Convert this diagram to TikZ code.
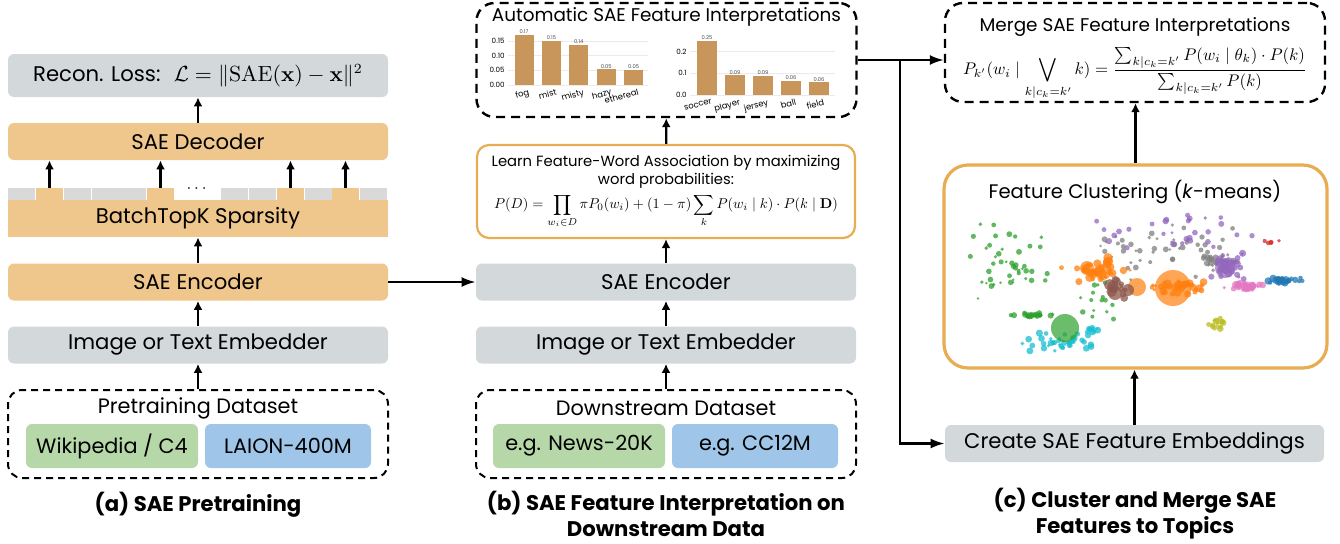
\documentclass[tikz,border=0pt]{standalone}
\usepackage{amsmath}
\usepackage{amssymb}
\usepackage{graphicx}
\usepackage[no-math]{fontspec}
\setmainfont{Poppins}
\usetikzlibrary{arrows.meta,positioning}

\definecolor{boxgray}{HTML}{D3D8DB}
\definecolor{boxorange}{HTML}{EFC68B}
\definecolor{boxgreen}{HTML}{B6D7A8}
\definecolor{boxblue}{HTML}{9FC5E8}
\definecolor{cellgray}{HTML}{D9D9D9}
\definecolor{frameorange}{HTML}{E8AC52}
\definecolor{barbrown}{HTML}{C8955A}
\definecolor{gridgray}{HTML}{EBEBEB}
\definecolor{tabblue}{HTML}{1F77B4}
\definecolor{taborange}{HTML}{FF7F0E}
\definecolor{tabgreen}{HTML}{2CA02C}
\definecolor{tabred}{HTML}{D62728}
\definecolor{tabpurple}{HTML}{9467BD}
\definecolor{tabbrown}{HTML}{8C564B}
\definecolor{tabpink}{HTML}{E377C2}
\definecolor{tabgray}{HTML}{7F7F7F}
\definecolor{tabolive}{HTML}{BCBD22}
\definecolor{tabcyan}{HTML}{17BECF}

% color, centre x, centre y, spread x, spread y, count, min radius, max radius
\newcommand{\featcloud}[8]{%
	\foreach \i in {1,...,#6}{%
		\pgfmathsetmacro{\px}{#2+#4*(rand+rand)/2}%
		\pgfmathsetmacro{\py}{#3+#5*(rand+rand)/2}%
		\pgfmathsetmacro{\pr}{#7+(#8-#7)*rnd}%
		\fill[#1, opacity=.75] (\px,\py) circle (\pr pt);
	}}

\begin{document}
\begin{tikzpicture}[x=0.5pt,y=-0.5pt]
	\tikzstyle{box}=[rounded corners=3pt, minimum width=190pt, minimum height=18.5pt, inner sep=0pt, font=\fontsize{10.6}{12}\selectfont]
	\tikzstyle{graybox}=[box, fill=boxgray]
	\tikzstyle{orangebox}=[box, fill=boxorange]
	\tikzstyle{databox}=[draw, line width=1pt, dash pattern=on 3.5pt off 2.5pt, rounded corners=7pt, minimum width=190pt, minimum height=44pt, inner sep=0pt]
	\tikzstyle{topbox}=[draw, line width=1.2pt, dash pattern=on 4.5pt off 3pt, rounded corners=9pt, minimum width=190pt, inner sep=0pt]
	\tikzstyle{framebox}=[draw=frameorange, rounded corners=6pt, inner sep=0pt]
	\tikzstyle{srcbox}=[rounded corners=3pt, minimum height=22pt, inner sep=0pt, font=\fontsize{10.4}{12}\selectfont]
	\tikzstyle{title}=[font=\fontsize{10.4}{12}\selectfont]
	\tikzstyle{toptitle}=[font=\fontsize{9.2}{10}\selectfont, inner sep=0pt]
	\tikzstyle{cell}=[minimum width=13.3pt, minimum height=6pt, inner sep=0pt]
	\tikzstyle{arr}=[-{Latex[length=4.5pt,width=4.5pt]}, line width=1.1pt]
	\tikzstyle{longarr}=[-{Latex[length=7pt,width=5pt]}, line width=1.1pt]
	\tikzstyle{caption}=[font=\bfseries\fontsize{10.6}{13}\selectfont, align=center, inner sep=0pt]
	\tikzstyle{ticklbl}=[font=\fontsize{3.6}{4}\selectfont, inner sep=0.5pt]
	\tikzstyle{barlbl}=[font=\fontsize{4.2}{5}\selectfont, inner sep=0.5pt, rotate=15, anchor=north east]
	\tikzstyle{vallbl}=[font=\fontsize{2.6}{3}\selectfont, text=black!70, inner sep=0.3pt, anchor=south]

	\useasboundingbox (0,0) rectangle (1340,543);

	% (a) SAE pretraining
	\node[graybox, minimum height=21.5pt] (loss) at (198,75.5) {Recon. Loss: \ $\mathcal{L}=\|\mathrm{SAE}(\mathbf{x})-\mathbf{x}\|^2$};
	\node[orangebox] (dec) at (198,141.5) {SAE Decoder};
	\node[orangebox, rounded corners=0pt] (sparse) at (198,218.5) {BatchTopK Sparsity};
	\foreach \x in {8,64,92,119,221,249,305,360}
		\node[cell, fill=cellgray] at (\x+13.5,194) {};
	\foreach \x [count=\n] in {36,147,277,332}
		\node[cell, fill=boxorange] (c\n) at (\x+13.5,194) {};
	\node[font=\fontsize{8}{8}\selectfont] (dots) at (198,189) {$\cdots$};
	\node[orangebox] (enca) at (198,282) {SAE Encoder};
	\node[graybox] (emba) at (198,345) {Image or Text Embedder};
	\node[databox] (dataa) at (198,434) {};
	\node[title] (dataatitle) at (198,408) {Pretraining Dataset};
	\node[srcbox, fill=boxgreen, minimum width=86pt] (wiki) at (112,446) {Wikipedia / C4};
	\node[srcbox, fill=boxblue, minimum width=83pt] (laion) at (288,446) {LAION-400M};
	\node[caption] (capa) at (198,505) {(a) SAE Pretraining};

	\draw[arr] (dec) -- (loss);
	\foreach \n in {1,...,4}
		\draw[arr] (c\n.north) -- (c\n.north |- dec.south);
	\draw[arr] (enca) -- (sparse);
	\draw[arr] (emba) -- (enca);
	\draw[arr] (dataa) -- (emba);

	% (b) feature interpretation
	\node[topbox, minimum height=57pt] (interp) at (666.5,60) {};
	\node[toptitle] (interptitle) at (666.5,17) {Automatic SAE Feature Interpretations};
	\node[framebox, line width=1.1pt, minimum width=189pt, minimum height=46.5pt] (learn) at (666,191.5) {};
	\node[font=\fontsize{7.4}{9}\selectfont, align=center, inner sep=0pt] (learntext) at (666,172) {Learn Feature-Word Association by maximizing\\word probabilities:};
	\node[inner sep=0pt] (learnmath) at (666,211) {\resizebox{172pt}{!}{$\displaystyle P(D)=\prod_{w_i\in D}\pi P_0(w_i)+(1-\pi)\sum_k P(w_i\mid k)\cdot P(k\mid\mathbf{D})$}};
	\node[graybox] (encb) at (666,282) {SAE Encoder};
	\node[graybox] (embb) at (666,345) {Image or Text Embedder};
	\node[databox] (datab) at (666,434) {};
	\node[title] (databtitle) at (666,408) {Downstream Dataset};
	\node[srcbox, fill=boxgreen, minimum width=86pt] (news) at (579,446) {e.g. News-20K};
	\node[srcbox, fill=boxblue, minimum width=83pt] (cc) at (755,446) {e.g. CC12M};
	\node[caption] (capb) at (666,514) {(b) SAE Feature Interpretation on\\Downstream Data};

	% bar charts
	\foreach \t/\y in {0.00/85,0.05/70.3,0.10/55.6,0.15/40.9}{
		\draw[gridgray, line width=0.3pt] (508,\y) -- (648,\y);
		\node[ticklbl, anchor=east] at (506,\y) {\t};
	}
	\foreach \v/\s/\w [count=\n] in {0.17/0.17/fog,0.15/0.15/mist,0.136/0.14/misty,0.053/0.05/hazy,0.052/0.05/ethereal}{
		\pgfmathsetmacro{\xc}{524+27.4*(\n-1)}
		\fill[barbrown] (\xc-9.5,85) rectangle (\xc+9.5,85-294*\v);
		\node[vallbl] at (\xc,85-294*\v) {\s};
		\node[barlbl] at (\xc+5,87) {\w};
	}
	\foreach \t/\y in {0.0/95,0.1/73.3,0.2/51.6}{
		\draw[gridgray, line width=0.3pt] (690,\y) -- (835,\y);
		\node[ticklbl, anchor=east] at (688,\y) {\t};
	}
	\foreach \v/\s/\w [count=\n] in {0.25/0.25/soccer,0.09/0.09/player,0.088/0.09/jersey,0.065/0.06/ball,0.058/0.06/field}{
		\pgfmathsetmacro{\xc}{707+28*(\n-1)}
		\fill[barbrown] (\xc-10,95) rectangle (\xc+10,95-217*\v);
		\node[vallbl] at (\xc,95-217*\v) {\s};
		\node[barlbl] at (\xc+5,97) {\w};
	}

	\draw[longarr] (enca) -- (encb);
	\draw[arr] (datab) -- (embb);
	\draw[arr] (embb) -- (encb);
	\draw[arr] (encb) -- (learn);
	\draw[arr] (learn) -- (interp);

	% (c) cluster and merge
	\node[topbox, minimum height=49.5pt] (merge) at (1135,52.5) {};
	\node[toptitle] (mergetitle) at (1135,27) {Merge SAE Feature Interpretations};
	\node[inner sep=0pt] (mergemath) at (1135,74) {\resizebox{172pt}{!}{$\displaystyle P_{k'}(w_i\mid\bigvee_{k|c_k=k'}k)=\frac{\sum_{k|c_k=k'}P(w_i\mid\theta_k)\cdot P(k)}{\sum_{k|c_k=k'}P(k)}$}};
	\node[framebox, line width=1.6pt, rounded corners=12pt, minimum width=191.5pt, minimum height=101.5pt] (clus) at (1135.5,266.5) {};
	\node[font=\fontsize{9.8}{11}\selectfont] (clustitle) at (1135,192) {Feature Clustering (\textit{k}-means)};
	\node[graybox, minimum width=189.5pt] (create) at (1134.5,443.5) {Create SAE Feature Embeddings};
	\node[caption] (capc) at (1135,514) {(c) Cluster and Merge SAE\\Features to Topics};

	\pgfmathsetseed{17}
	\featcloud{tabgreen}{1010}{262}{45}{40}{45}{0.6}{1.5}
	\featcloud{tabgreen}{1030}{315}{25}{3}{25}{0.8}{1.6}
	\featcloud{tabgreen}{1095}{300}{30}{25}{15}{0.7}{1.4}
	\featcloud{tabcyan}{1060}{342}{45}{10}{40}{0.7}{1.8}
	\featcloud{tabcyan}{1095}{330}{12}{6}{10}{0.8}{2}
	\featcloud{tabgray}{1165}{250}{90}{35}{50}{0.7}{1.5}
	\featcloud{tabgray}{1220}{262}{20}{12}{30}{0.8}{1.6}
	\featcloud{tabpurple}{1170}{232}{90}{20}{30}{0.7}{1.6}
	\featcloud{tabpurple}{1228}{265}{22}{15}{30}{0.8}{2.2}
	\featcloud{taborange}{1100}{270}{40}{15}{35}{0.7}{2.5}
	\featcloud{taborange}{1180}{288}{30}{8}{40}{0.8}{2.2}
	\featcloud{tabbrown}{1115}{288}{15}{10}{12}{1}{3}
	\featcloud{tabpink}{1245}{286}{22}{5}{30}{0.8}{2}
	\featcloud{tabblue}{1285}{280}{22}{4}{25}{0.8}{2}
	\featcloud{tabred}{1270}{242}{12}{3}{5}{0.8}{1.2}
	\featcloud{tabolive}{1218}{323}{10}{6}{15}{0.8}{1.8}
	\fill[taborange, opacity=.7] (1173,288) circle (9pt);
	\fill[taborange, opacity=.7] (1087,268) circle (3.5pt);
	\fill[taborange, opacity=.7] (1103,272) circle (4pt);
	\fill[taborange, opacity=.7] (1137,287) circle (4.5pt);
	\fill[tabgreen, opacity=.7] (1065,328) circle (7pt);
	\fill[tabbrown, opacity=.75] (1115,293) circle (3.5pt);
	\fill[tabbrown, opacity=.75] (1128,290) circle (3pt);
	\fill[tabpurple, opacity=.7] (1225,268) circle (5pt);

	\coordinate (split) at (900,0 |- interp.east);
	\draw[longarr] (interp.east) -- (interp.east -| merge.west);
	\draw[longarr] (split) |- (create.west);
	\draw[arr] (create.north) -- (create.north |- clus.south);
	\draw[arr] (clus.north) -- (clus.north |- merge.south);
\end{tikzpicture}
\end{document}
